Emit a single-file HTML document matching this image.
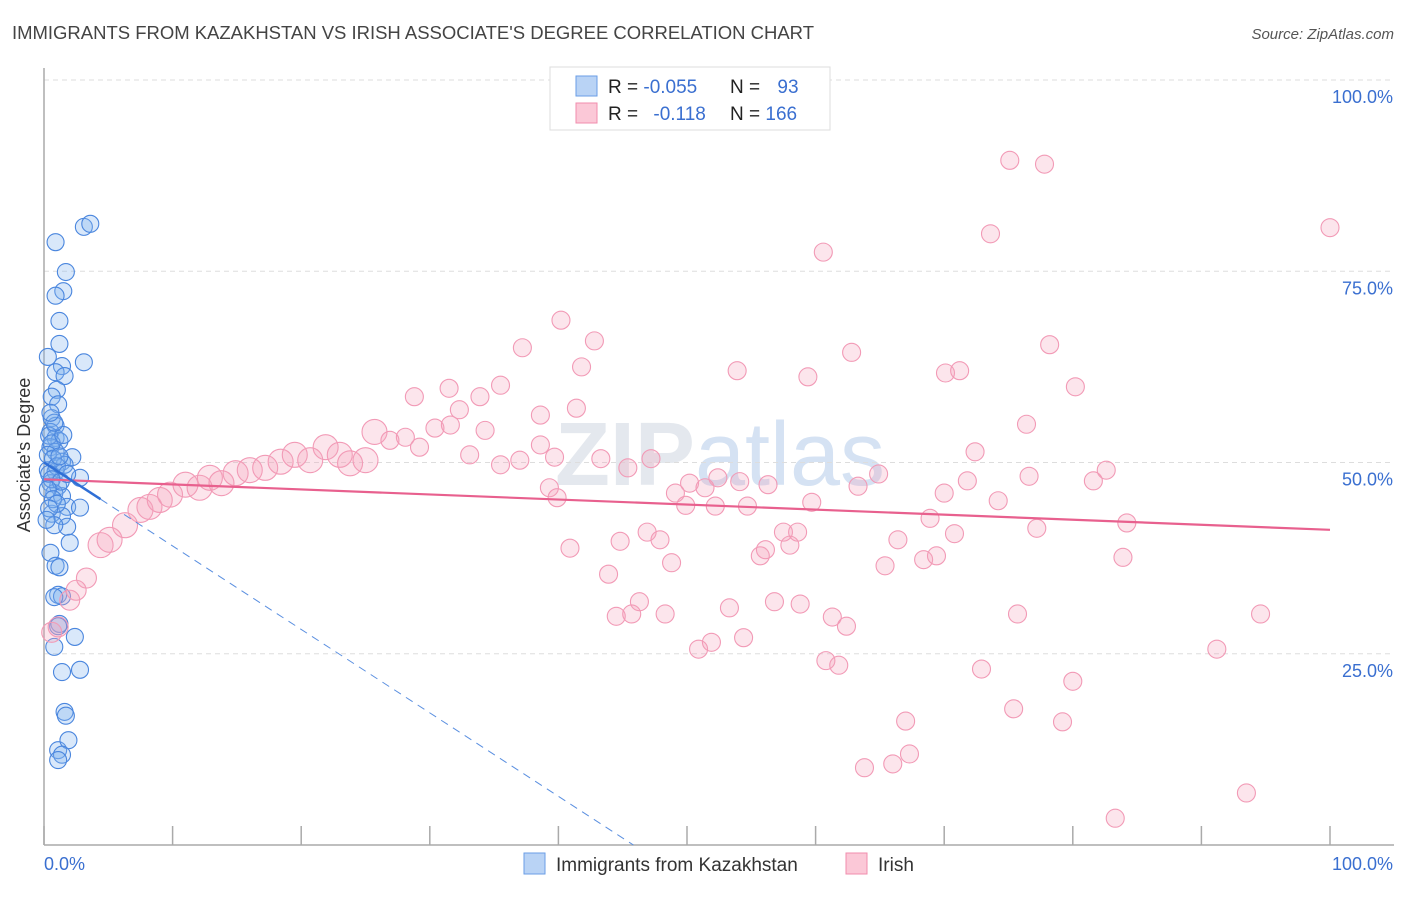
<!DOCTYPE html>
<html><head><meta charset="utf-8">
<style>
body{margin:0;background:#fff;font-family:"Liberation Sans",sans-serif;}
svg text{font-family:"Liberation Sans",sans-serif;}
</style></head>
<body>
<svg id="chart" width="1406" height="892" viewBox="0 0 1406 892">
<text x="12" y="39" font-size="18.5" fill="#444" textLength="802">IMMIGRANTS FROM KAZAKHSTAN VS IRISH ASSOCIATE'S DEGREE CORRELATION CHART</text>
<text x="1394" y="39" font-size="15" fill="#555" font-style="italic" text-anchor="end">Source: ZipAtlas.com</text>
<text x="720" y="485" font-size="90" fill="#e4e8ee" text-anchor="middle" font-weight="bold">ZIP<tspan font-weight="normal" fill="#d5e2f3">atlas</tspan></text>
<g id="grid"></g>
<g id="axes"></g>
<g id="pts"></g>
<g id="trend"></g>
<text x="30" y="455" font-size="18" fill="#333" text-anchor="middle" transform="rotate(-90 30 455)">Associate's Degree</text>
<g>
<rect x="550" y="67" width="280" height="63" fill="#fff" stroke="#ddd"/>
<rect x="576" y="76" width="21" height="20" fill="#b9d3f5" stroke="#6a9ee6"/>
<rect x="576" y="103" width="21" height="20" fill="#fbc8d7" stroke="#f28cad"/>
<text x="608" y="93" font-size="19" fill="#222">R = <tspan fill="#3a6fd0">-0.055</tspan></text>
<text x="730" y="93" font-size="19" fill="#222">N = <tspan fill="#3a6fd0" dx="12">93</tspan></text>
<text x="608" y="120" font-size="19" fill="#222">R = <tspan fill="#3a6fd0" dx="10">-0.118</tspan></text>
<text x="730" y="120" font-size="19" fill="#222">N = <tspan fill="#3a6fd0">166</tspan></text>
</g>
<g>
<rect x="524" y="853" width="21" height="21" fill="#b9d3f5" stroke="#6a9ee6"/>
<text x="556" y="871" font-size="19" fill="#333">Immigrants from Kazakhstan</text>
<rect x="846" y="853" width="21" height="21" fill="#fbc8d7" stroke="#f28cad"/>
<text x="878" y="871" font-size="19" fill="#333">Irish</text>
</g>
</svg>
<script>
const yTicks=[100,75,50,25];
const yTickLabels=["100.0%","75.0%","50.0%","25.0%"];
const xTicks=[0,10,20,30,40,50,60,70,80,90,100];
const xEndLabels=["0.0%","100.0%"];
const blueX=[0.9,3.1,3.6,1.7,1.5,0.9,1.2,1.2,0.3,3.1,1.4,0.9,1.6,1.0,0.6,1.1,0.6,0.9,0.5,0.9,1.2,0.5,0.9,2.2,1.4,0.3,0.9,1.6,2.8,0.5,1.1,0.8,1.4,1.8,2.8,0.6,1.4,1.8,0.8,2.0,0.5,0.9,1.2,1.1,1.4,0.8,1.2,1.1,2.4,0.8,1.4,2.8,1.6,1.7,1.1,1.9,1.4,1.1,0.4,0.6,0.3,0.7,1.0,0.4,0.6,1.3,0.3,0.7,1.0,0.4,1.5,1.2,0.8,0.5,1.8,0.2];
const blueY=[78.8,80.8,81.2,74.9,72.4,71.8,68.5,65.5,63.8,63.1,62.6,61.8,61.3,59.5,58.6,57.6,55.8,54.8,54.0,53.2,52.8,52.0,51.4,50.7,50.1,49.0,48.8,49.7,48.0,47.3,46.9,46.0,45.6,44.2,44.1,43.3,43.0,41.6,41.8,39.5,38.2,36.5,36.3,32.7,32.5,32.4,28.9,28.6,27.2,25.9,22.6,22.9,17.4,16.9,12.4,13.7,11.8,11.1,53.5,52.5,51.0,50.5,49.5,48.5,47.8,47.5,46.5,45.2,44.6,44.0,53.6,50.8,55.2,56.5,48.5,42.5];
const pinkX=[0.6,1.1,2.0,2.5,3.3,4.4,5.1,6.3,7.5,8.2,9.0,9.8,11.0,12.1,12.9,13.8,14.9,16.0,17.2,18.4,19.5,20.7,21.9,23.0,23.8,25.0,25.7,26.9,28.1,29.2,30.4,31.6,32.3,33.1,34.3,35.5,37.0,38.6,39.7,75.1,77.8,100,60.6,73.6,40.2,42.8,37.2,41.8,53.9,59.4,62.8,70.1,71.2,78.2,80.2,28.8,31.5,35.5,33.9,38.6,41.4,76.4,72.4,43.3,45.4,47.2,52.4,54.1,56.3,59.7,63.3,64.9,71.8,70.0,74.2,82.6,81.6,76.6,39.3,39.9,49.1,50.2,51.4,49.9,52.2,54.7,68.9,70.8,84.2,77.2,40.9,44.8,46.9,47.9,48.8,55.7,56.1,58.0,57.5,58.6,65.4,66.4,68.4,69.4,83.9,43.9,44.5,46.3,45.7,48.3,53.3,56.8,58.8,61.3,62.4,75.7,94.6,50.9,51.9,54.4,60.8,61.8,72.9,91.2,80.0,67.0,75.4,79.2,63.8,66.0,67.3,93.5,83.3];
const pinkY=[27.8,28.5,32.0,33.3,34.9,39.2,39.9,41.8,43.8,44.2,45.1,45.8,47.1,46.7,48.0,47.3,48.6,49.0,49.3,50.1,51.0,50.3,52.0,51.0,49.9,50.3,54.0,52.9,53.3,52.0,54.5,54.9,56.9,51.0,54.2,49.7,50.3,52.3,50.7,89.5,89.0,80.7,77.5,79.9,68.6,65.9,65.0,62.5,62.0,61.2,64.4,61.7,62.0,65.4,59.9,58.6,59.7,60.1,58.6,56.2,57.1,55.0,51.4,50.5,49.3,50.5,48.0,47.5,47.1,44.8,46.9,48.5,47.6,46.0,45.0,49.0,47.6,48.2,46.7,45.4,46.0,47.3,46.7,44.4,44.3,44.3,42.7,40.7,42.1,41.4,38.8,39.7,40.9,39.9,36.9,37.8,38.6,39.2,40.9,40.9,36.5,39.9,37.3,37.8,37.6,35.4,29.9,31.8,30.2,30.2,31.0,31.8,31.5,29.8,28.6,30.2,30.2,25.6,26.5,27.1,24.1,23.5,23.0,25.6,21.4,16.2,17.8,16.1,10.1,10.6,11.9,6.8,3.5];
const pinkTrend=[47.8,41.2];
const blueTrend=[50.0,45.2,0];
const X0=44,X1=1330,Y0=845,Y100=80;
const sx=v=>X0+(X1-X0)*v/100, sy=v=>Y0-(Y0-Y100)*v/100;
const NS="http://www.w3.org/2000/svg";
function mk(tag,parent,attrs){const e=document.createElementNS(NS,tag);for(const k in attrs)e.setAttribute(k,attrs[k]);document.getElementById(parent).appendChild(e);return e;}
yTicks.forEach((t,i)=>{
 const l=mk('line','grid',{x1:X0,x2:1394,y1:sy(t),y2:sy(t),stroke:'#ddd','stroke-dasharray':'5,4'});
 
 
 const tx=mk('text','grid',{x:1393,y:sy(t)+23,'font-size':18,fill:'#3a6fd0','text-anchor':'end'});
 tx.textContent=yTickLabels[i];
 
 
});
const ax=mk('line','axes',{x1:X0,x2:X0,y1:68,y2:Y0,stroke:'#aaa','stroke-width':1.5});


const bx=mk('line','axes',{x1:X0,x2:1394,y1:Y0,y2:Y0,stroke:'#aaa','stroke-width':1.5});


xTicks.forEach(t=>{
 const l=mk('line','axes',{x1:sx(t),x2:sx(t),y1:826,y2:Y0,stroke:'#aaa','stroke-width':1.5});
 
 
});
const xl0=mk('text','axes',{x:44,y:870,'font-size':18,fill:'#3a6fd0'});xl0.textContent=xEndLabels[0];


const xl1=mk('text','axes',{x:1393,y:870,'font-size':18,fill:'#3a6fd0','text-anchor':'end'});xl1.textContent=xEndLabels[1];


blueX.forEach((v,i)=>{
 const c=mk('circle','pts',{cx:sx(v),cy:sy(blueY[i]),r:8.5,fill:'rgba(130,178,240,0.3)',stroke:'#4a86de','stroke-width':1.1});
 
 
});
pinkX.forEach((v,i)=>{
 const r=v<26?(v<4?10:12.5):9;
 const c=mk('circle','pts',{cx:sx(v),cy:sy(pinkY[i]),r:r,fill:'rgba(246,160,188,0.28)',stroke:'#f29ab6','stroke-width':1.1});
 
 
});
const pt=mk('line','trend',{x1:sx(0),y1:sy(pinkTrend[0]),x2:sx(100),y2:sy(pinkTrend[1]),stroke:'#e8608e','stroke-width':2.2});


const bt=mk('line','trend',{x1:sx(0),y1:sy(blueTrend[0]),x2:sx(4.4),y2:sy(blueTrend[1]),stroke:'#2f6fd6','stroke-width':2.5});


const slope=(blueTrend[1]-blueTrend[0])/4.4;
const xEnd=(blueTrend[2]-blueTrend[0])/slope;
const bd=mk('line','trend',{x1:sx(4.4),y1:sy(blueTrend[1]),x2:sx(xEnd),y2:sy(blueTrend[2]),stroke:'#5a8fe0','stroke-width':1,'stroke-dasharray':'8,6'});


</script>
</body></html>
